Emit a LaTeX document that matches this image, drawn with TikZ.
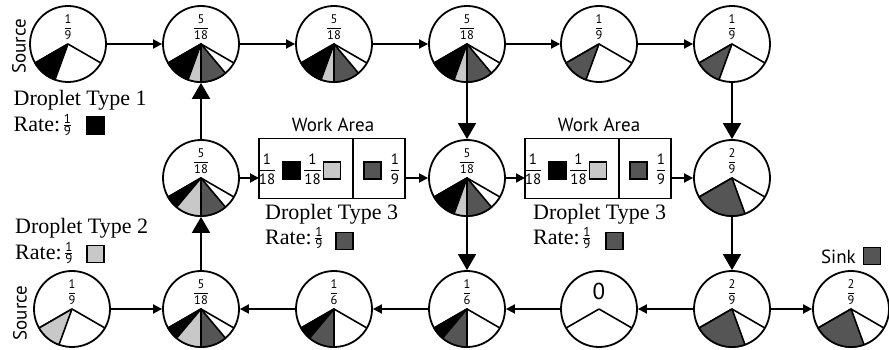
\documentclass[tikz,border=0pt]{standalone}
\usepackage{fontspec}
\usepackage{amsmath}
\setmainfont{Liberation Serif}
\newfontfamily\tnr{Liberation Serif}
\newfontfamily\myriad{PT Sans}
\usetikzlibrary{arrows.meta}
\definecolor{dg}{RGB}{85,85,85}
\definecolor{lg}{RGB}{200,200,200}
\newcommand\cfr[2]{$\displaystyle\genfrac{}{}{0.6pt}{}{\hbox{#1}}{\hbox{#2}}$}
\newcommand\rfr[2]{$\vcenter{\hbox{\myriad\fontsize{13}{13}\selectfont\setlength\arrayrulewidth{0.6pt}\begin{tabular}{@{}c@{}}#1\\[-2pt]\hline\rule{0pt}{9.5pt}#2\end{tabular}}}$}
\newcommand\slc[4]{\filldraw[fill=#4,draw=black,line width=1.6pt,line join=round] (#1.center) -- ++(#2:38pt) arc[start angle=#2,end angle=#3,radius=38pt] -- cycle;}
\tikzset{
  pienode/.style={circle, draw, line width=1.8pt, minimum size=76pt, inner sep=0pt, fill=white},
  cf/.style={font=\myriad\fontsize{12.5}{13}\selectfont, inner sep=0pt},
  cfb/.style={font=\myriad\fontsize{15}{16}\selectfont, inner sep=0pt},
  arr/.style={line width=1.8pt, -{Triangle[length=9pt,width=9pt]}},
  varr/.style={line width=1.8pt, -{Triangle[length=16pt,width=18pt]}},
  lab/.style={font=\tnr\fontsize{22}{24}\selectfont, inner sep=0pt, anchor=base west},
  sanslab/.style={font=\myriad\fontsize{19}{20}\selectfont, inner sep=0pt},
  sqr/.style={draw, line width=1.4pt, minimum size=17pt, inner sep=0pt},
  wbox/.style={draw, line width=1.8pt, minimum height=60pt, inner sep=0pt, outer sep=0pt, anchor=south west},
}
\begin{document}
\begin{tikzpicture}[x=1pt,y=1pt]
\useasboundingbox (0,0) rectangle (889,350);
\fill[white] (0,0) rectangle (889,350);
% circles
\node[pienode] (s1) at (68,306) {};
\node[pienode] (t2) at (201,306) {};
\node[pienode] (t3) at (334,306) {};
\node[pienode] (t4) at (467,306) {};
\node[pienode] (t5) at (599,306) {};
\node[pienode] (t6) at (732,306) {};
\node[pienode] (m1) at (201,172) {};
\node[pienode] (m2) at (467,172) {};
\node[pienode] (m3) at (732,172) {};
\node[pienode] (s2) at (72,41) {};
\node[pienode] (b2) at (201,41) {};
\node[pienode] (b3) at (334,41) {};
\node[pienode] (b4) at (467,41) {};
\node[pienode] (b5) at (599,41) {};
\node[pienode] (b6) at (732,41) {};
\node[pienode] (sk) at (851,41) {};
% pie outlines
\foreach \n in {s1,t2,t3,t4,t5,t6,m1,m2,m3,s2,b2,b3,b4,b5,b6,sk}
  {\draw[line width=1.6pt] (\n.center) -- +(210:38pt) (\n.center) -- +(330:38pt);}
% slices
\slc{s1}{210}{250}{black}
\foreach \n in {t2,t3,t4,m2}{\slc{\n}{210}{250}{black}\slc{\n}{250}{270}{lg}\slc{\n}{270}{310}{dg}}
\foreach \n in {m1,b2}{\slc{\n}{210}{230}{black}\slc{\n}{230}{270}{lg}\slc{\n}{270}{310}{dg}}
\slc{t5}{210}{250}{dg}
\slc{t6}{210}{250}{dg}
\foreach \n in {m3,b6,sk}{\slc{\n}{210}{290}{dg}}
\slc{s2}{210}{250}{lg}
\foreach \n in {b3,b4}{\slc{\n}{210}{230}{black}\slc{\n}{230}{270}{dg}}
% circle fractions
\node[cf] (fs1) at ([yshift=17pt]s1.center) {\cfr{1}{9}};
\node[cf] (ft2) at ([yshift=17pt]t2.center) {\cfr{5}{18}};
\node[cf] (ft3) at ([yshift=17pt]t3.center) {\cfr{5}{18}};
\node[cf] (ft4) at ([yshift=17pt]t4.center) {\cfr{5}{18}};
\node[cf] (ft5) at ([yshift=17pt]t5.center) {\cfr{1}{9}};
\node[cf] (ft6) at ([yshift=17pt]t6.center) {\cfr{1}{9}};
\node[cf] (fm1) at ([yshift=17pt]m1.center) {\cfr{5}{18}};
\node[cf] (fm2) at ([yshift=17pt]m2.center) {\cfr{5}{18}};
\node[cf] (fm3) at ([yshift=17pt]m3.center) {\cfr{2}{9}};
\node[cf] (fs2) at ([yshift=17pt]s2.center) {\cfr{1}{9}};
\node[cf] (fb2) at ([yshift=17pt]b2.center) {\cfr{5}{18}};
\node[cf] (fb3) at ([yshift=17pt]b3.center) {\cfr{1}{6}};
\node[cf] (fb4) at ([yshift=17pt]b4.center) {\cfr{1}{6}};
\node[font=\myriad\fontsize{23}{24}\selectfont, inner sep=0pt] (fb5) at ([yshift=17.5pt]b5.center) {0};
\node[cf] (fb6) at ([yshift=17pt]b6.center) {\cfr{2}{9}};
\node[cf] (fsk) at ([yshift=17pt]sk.center) {\cfr{2}{9}};
% work areas
\node[wbox, minimum width=94pt] (w1a) at (259,151.5) {};
\node[wbox, minimum width=52pt] (w1b) at (353,151.5) {};
\node[wbox, minimum width=94pt] (w2a) at (525,151.5) {};
\node[wbox, minimum width=52pt] (w2b) at (619,151.5) {};
\node[sanslab, anchor=base] (wl1) at (333,218.3) {Work Area};
\node[sanslab, anchor=base] (wl2) at (599,218.3) {Work Area};
\node[cfb] (a1) at (267,181) {\cfr{1}{18}};
\node[sqr, fill=black] (a2) at (291.5,179.5) {};
\node[cfb] (a3) at (312.5,181) {\cfr{1}{18}};
\node[sqr, fill=lg] (a4) at (332,179.5) {};
\node[sqr, fill=dg] (a5) at (372.5,179.5) {};
\node[cfb] (a6) at (395,181) {\cfr{1}{9}};
\node[cfb] (c1) at (533,181) {\cfr{1}{18}};
\node[sqr, fill=black] (c2) at (557.5,179.5) {};
\node[cfb] (c3) at (578.5,181) {\cfr{1}{18}};
\node[sqr, fill=lg] (c4) at (598,179.5) {};
\node[sqr, fill=dg] (c5) at (638.5,179.5) {};
\node[cfb] (c6) at (661,181) {\cfr{1}{9}};
% text labels
\node[lab] (d1) at (13.5,244) {Droplet Type 1};
\node[lab] (r1) at (13.5,218.3) {Rate:\,\rfr{1}{9}};
\node[sqr, fill=black] (q1) at (95.5,224.5) {};
\node[lab] (d2) at (15,116.7) {Droplet Type 2};
\node[lab] (r2) at (15,90) {Rate:\,\rfr{1}{9}};
\node[sqr, fill=lg] (q2) at (95.5,96) {};
\node[lab] (d3) at (265,130.7) {Droplet Type 3};
\node[lab] (r3) at (265,105) {Rate:\,\rfr{1}{9}};
\node[sqr, fill=dg] (q3) at (344.5,109.2) {};
\node[lab] (d4) at (533,130.7) {Droplet Type 3};
\node[lab] (r4) at (533,105) {Rate:\,\rfr{1}{9}};
\node[sqr, fill=dg] (q4) at (614.5,109.2) {};
\node[sanslab, anchor=base east] (sinkl) at (856,86.7) {Sink};
\node[sqr, fill=dg] (q5) at (872,94.2) {};
\node[sanslab, rotate=90] (src1) at (19,303.5) {Source};
\node[sanslab, rotate=90] (src2) at (20,37) {Source};
% connectors
\draw[arr] (s1) -- (t2);
\draw[arr] (t2) -- (t3);
\draw[arr] (t3) -- (t4);
\draw[arr] (t4) -- (t5);
\draw[arr] (t5) -- (t6);
\draw[arr] (m1) -- (m1 -| w1a.west);
\draw[arr] (w1b.east |- m2) -- (m2);
\draw[arr] (m2) -- (m2 -| w2a.west);
\draw[arr] (w2b.east |- m3) -- (m3);
\draw[arr] (s2) -- (b2);
\draw[arr] (b3) -- (b2);
\draw[arr] (b4) -- (b3);
\draw[arr] (b5) -- (b4);
\draw[arr] (b6) -- (b5);
\draw[arr] (b6) -- (sk);
\draw[varr] (m1) -- (t2);
\draw[varr] (t4) -- (m2);
\draw[varr] (t6) -- (m3);
\draw[varr] (b2) -- (m1);
\draw[varr] (m2) -- (b4);
\draw[varr] (m3) -- (b6);
\end{tikzpicture}
\end{document}
